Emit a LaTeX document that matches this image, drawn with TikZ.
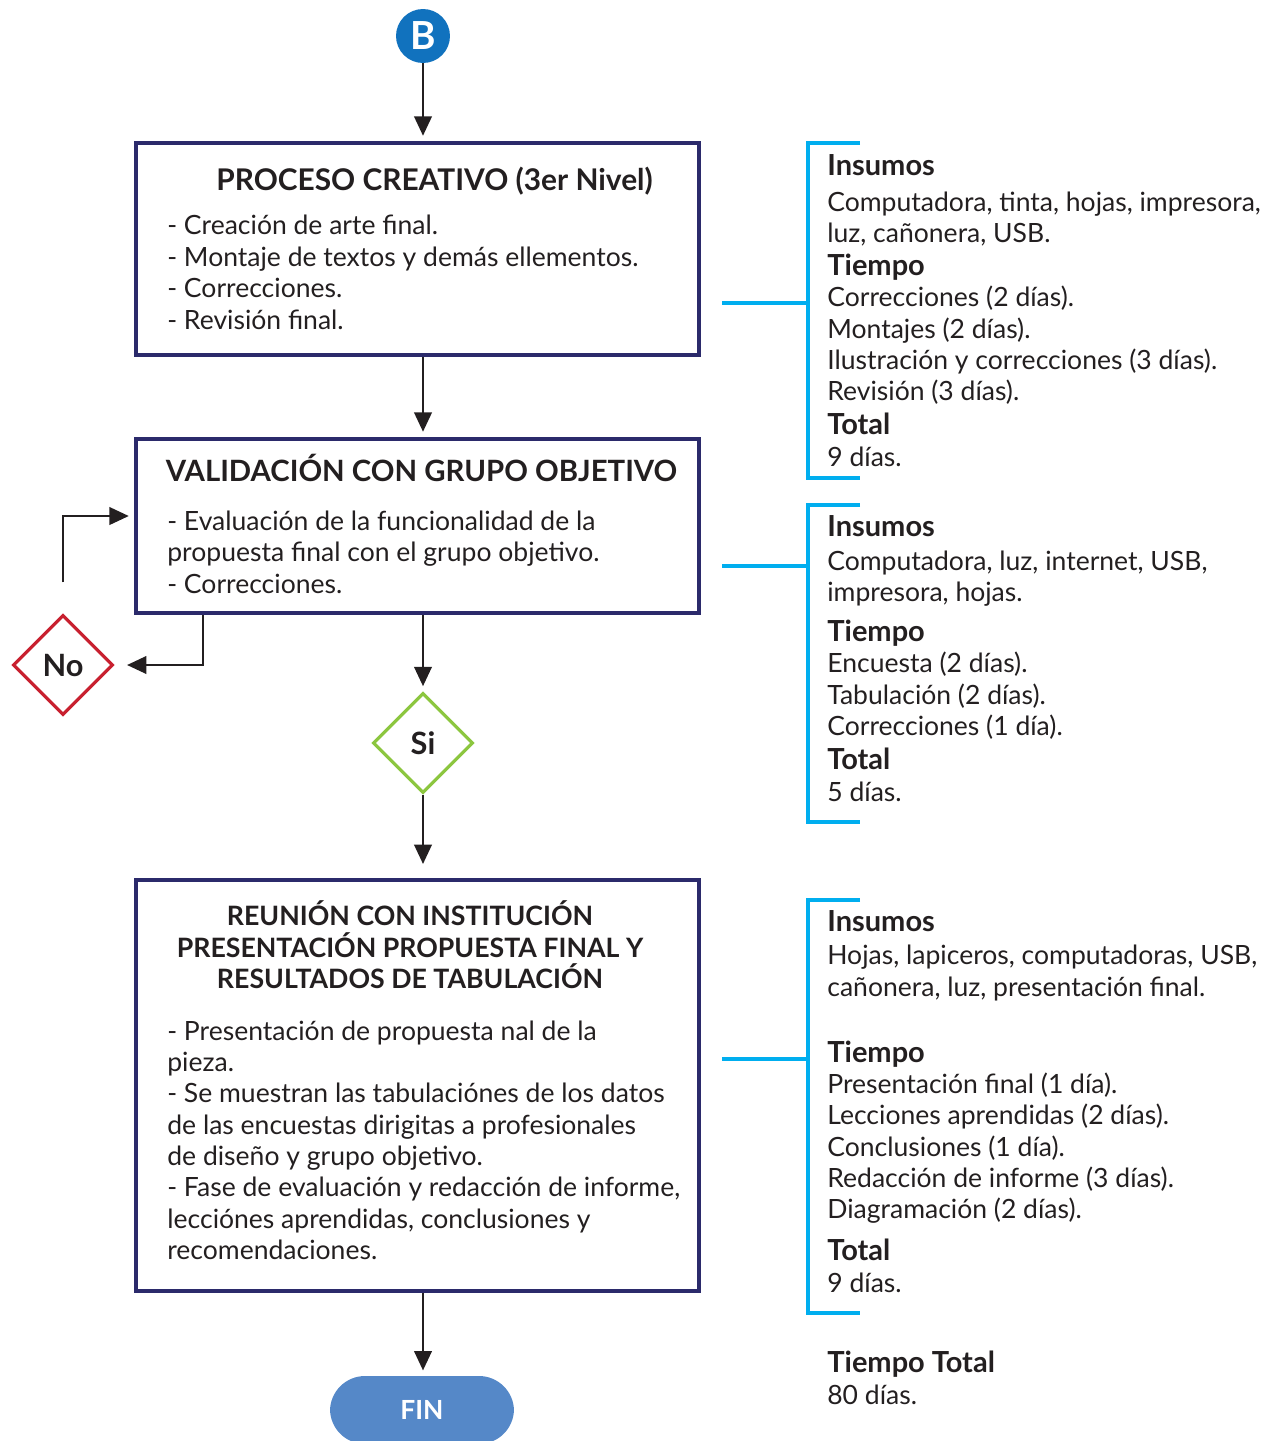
\documentclass[tikz,border=0pt]{standalone}
\usepackage{fontspec}
\setmainfont{Lato}
\usetikzlibrary{shapes.geometric,arrows.meta,positioning}
\definecolor{marino}{HTML}{2B2A6B}
\definecolor{celeste}{HTML}{00AEEF}
\definecolor{azulB}{HTML}{1172BE}
\definecolor{rojo}{HTML}{C8202F}
\definecolor{verde}{HTML}{8CC63F}
\definecolor{azulfin}{HTML}{5588C8}
\definecolor{tinta}{HTML}{231F20}
\tikzset{
	caja/.style={draw=marino, line width=2.3pt, minimum width=11.26cm, inner sep=0pt}, % process boxes
	flecha/.style={-{Triangle[length=11pt,width=10pt]}, line width=1.2pt, draw=tinta, shorten >=3pt},
	llave/.style={draw=celeste, line width=2.3pt}, % brackets on the right
	rombo/.style={diamond, line width=1.8pt, minimum width=2cm, minimum height=2cm, inner sep=0pt,
		text=tinta, font=\fontsize{17.5}{20}\selectfont\bfseries},
	linea/.style={anchor=base west, inner sep=0pt, text=tinta, font=\fontsize{15.1}{18}\selectfont},
	encab/.style={anchor=base west, inner sep=0pt, text=tinta, font=\fontsize{16.5}{19}\selectfont\bfseries},
	titulo/.style={anchor=base, inner sep=0pt, text=tinta, font=\fontsize{15.2}{18}\selectfont\bfseries}
}
\begin{document}
\begin{tikzpicture}[x=0.02cm,y=-0.02cm]
	\clip (0,0) rectangle (1274,1441);
	% Start and boxes
	\node[circle, fill=azulB, minimum size=1.08cm, inner sep=0pt, text=white,
		font=\fontsize{22}{26}\selectfont\bfseries] (B) at (423,36) {B};
	\node[caja, minimum height=4.24cm] (proceso) at (417.5,249) {};
	\node[caja, minimum height=3.48cm] (valida) at (417.5,526) {};
	\node[caja, minimum height=8.22cm] (reunion) at (417.5,1085.5) {};
	% Decisions
	\node[rombo, draw=rojo] (no) at (63,665) {No};
	\node[rombo, draw=verde] (si) at (423,743) {Si};
	% End
	\node[rectangle, rounded corners=0.7cm, fill=azulfin, minimum width=3.68cm, minimum height=1.36cm,
		text=white, font=\fontsize{15}{18}\selectfont\bfseries] (fin) at (422,1410) {FIN};

	% Box texts
	\node[titulo, font=\fontsize{17}{20}\selectfont\bfseries] at (434.5,190) {PROCESO CREATIVO (3er Nivel)};
	\foreach \y/\t in {225/{- Creación de arte final.}, 257/{- Montaje de textos y demás ellementos.},
		288/{- Correcciones.}, 320/{- Revisión final.}}
		\node[linea] at (167,{\y+9}) {\t};
	\node[titulo, font=\fontsize{16.7}{20}\selectfont\bfseries] at (421.5,481) {VALIDACIÓN CON GRUPO OBJETIVO};
	\foreach \y/\t in {521/{- Evaluación de la funcionalidad de la}, 552/{propuesta final con el grupo objetivo.},
		584/{- Correcciones.}}
		\node[linea] at (167,{\y+9}) {\t};
	\node[titulo] at (410,925) {REUNIÓN CON INSTITUCIÓN};
	\node[titulo] at (410,957) {PRESENTACIÓN PROPUESTA FINAL Y};
	\node[titulo] at (410,988) {RESULTADOS DE TABULACIÓN};
	\foreach \y/\t in {1031/{- Presentación de propuesta nal de la}, 1062/{pieza.},
		1093/{- Se muestran las tabulaciónes de los datos}, 1125/{de las encuestas dirigitas a profesionales},
		1156/{de diseño y grupo objetivo.}, 1187/{- Fase de evaluación y redacción de informe,},
		1219/{lecciónes aprendidas, conclusiones y}, 1250/{recomendaciones.}}
		\node[linea] at (167,{\y+9}) {\t};

	% Arrows
	\draw[flecha] (B) -- (proceso.north -| B);
	\draw[flecha] (proceso.south -| B) -- (valida.north -| B);
	\draw[flecha] (valida.south -| si) -- (si.north);
	\draw[flecha, shorten >=8pt] (si) -- (reunion.north -| si);
	\draw[flecha] (reunion.south -| si) -- (fin.north -| si);
	\draw[flecha, shorten >=0.25cm] ([xshift=1.38cm]valida.south west) |- (no.east);
	\coordinate (retorno) at ([yshift=0.62cm]no.north);
	\draw[flecha] (retorno) |- ([yshift=0.2cm]valida.west);

	% Brackets
	\draw[llave] (860,143) -- (808,143) -- (808,478) -- (860,478);
	\draw[llave] (722,303) -- (808,303);
	\draw[llave] (860,505) -- (808,505) -- (808,822) -- (860,822);
	\draw[llave] (722,566) -- (808,566);
	\draw[llave] (860,900) -- (808,900) -- (808,1313) -- (860,1313);
	\draw[llave] (722,1059) -- (808,1059);

	% Bracket texts
	\foreach \y in {165,526,921} \node[encab] at (827,{\y+10}) {Insumos};
	\foreach \y in {265,631,1052} \node[encab] at (827,{\y+10}) {Tiempo};
	\foreach \y in {424,759,1250} \node[encab] at (827,{\y+10}) {Total};
	\foreach \y/\t in {202/{Computadora, tinta, hojas, impresora,}, 233/{luz, cañonera, USB.},
		297/{Correcciones (2 días).}, 329/{Montajes (2 días).}, 360/{Ilustración y correcciones (3 días).},
		391/{Revisión (3 días).}, 457/{9 días.},
		561/{Computadora, luz, internet, USB,}, 592/{impresora, hojas.},
		663/{Encuesta (2 días).}, 695/{Tabulación (2 días).}, 726/{Correcciones (1 día).}, 792/{5 días.},
		955/{Hojas, lapiceros, computadoras, USB,}, 987/{cañonera, luz, presentación final.},
		1084/{Presentación final (1 día).}, 1115/{Lecciones aprendidas (2 días).}, 1147/{Conclusiones (1 día).},
		1178/{Redacción de informe (3 días).}, 1209/{Diagramación (2 días).}, 1283/{9 días.},
		1395/{80 días.}}
		\node[linea] at (827,{\y+9}) {\t};
	\node[encab] at (827,1372) {Tiempo Total};
\end{tikzpicture}
\end{document}
